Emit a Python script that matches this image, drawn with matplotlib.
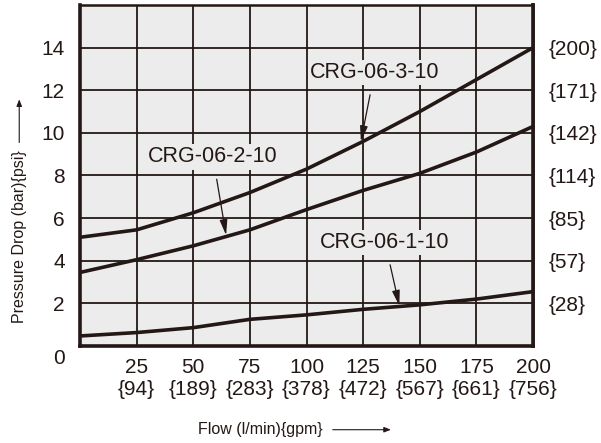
import matplotlib
matplotlib.use("Agg")
import matplotlib.pyplot as plt
import matplotlib.transforms as mtransforms
from matplotlib.patches import FancyArrowPatch

plt.rcParams['font.family'] = ['Liberation Sans', 'DejaVu Sans']

# flow in l/min, pressure drop in bar
flow = [0, 25, 50, 75, 100, 125, 150, 175, 200]
crg_3 = [5.1, 5.45, 6.25, 7.2, 8.3, 9.6, 11.0, 12.5, 14.0]
crg_2 = [3.45, 4.05, 4.7, 5.45, 6.4, 7.3, 8.1, 9.1, 10.3]
crg_1 = [0.47, 0.63, 0.86, 1.25, 1.46, 1.72, 1.93, 2.2, 2.55]

x_ticks = [25, 50, 75, 100, 125, 150, 175, 200]
gpm_labels = ['{94}', '{189}', '{283}', '{378}', '{472}', '{567}', '{661}', '{756}']
y_ticks = [0, 2, 4, 6, 8, 10, 12, 14]
psi_labels = ['{28}', '{57}', '{85}', '{114}', '{142}', '{171}', '{200}']

# label text, text position, arrow tip (data coords)
notes = [
    ('CRG-06-3-10', (130, 12.83), (124, 9.6)),
    ('CRG-06-2-10', (58.7, 8.87), (64.5, 5.2)),
    ('CRG-06-1-10', (134.7, 4.85), (141, 1.88)),
]

ink = '#231815'
bg = '#ececec'
fig = plt.figure(figsize=(6.01, 4.43), dpi=100)
ax = fig.add_axes([0.1331, 0.219, 0.7538, 0.7697])
ax.set_xlim(0, 200)
ax.set_ylim(0, 16)

# panel shading
ax.fill_between([0, 200], 0, 16, color=bg, lw=0, zorder=0.5)

# grid as one path, pieces separated by NaN
gx, gy = [], []
for v in x_ticks[:-1]:
    gx += [v, v, float('nan')]
    gy += [0, 16, float('nan')]
for v in y_ticks[1:]:
    gx += [0, 200, float('nan')]
    gy += [v, v, float('nan')]
ax.plot(gx, gy, color=ink, lw=1.3, zorder=2)

for series in (crg_3, crg_2, crg_1):
    ax.plot(flow, series, color=ink, lw=2.6, solid_capstyle='butt', zorder=3)

for text, xy_text, xy_tip in notes:
    ax.annotate(text, xy=xy_tip, xytext=xy_text, fontsize=15.5, color=ink,
                ha='center', va='center', zorder=4,
                bbox=dict(boxstyle='square,pad=0.1', fc=bg, ec='none'),
                arrowprops=dict(arrowstyle='-|>,head_length=0.6,head_width=0.15',
                                color=ink, lw=0.9, shrinkA=7, shrinkB=0))

ax.set_xticks(x_ticks)
ax.set_xticklabels([f'{a}\n{b}' for a, b in zip(x_ticks, gpm_labels)], fontsize=15)
ax.set_yticks(y_ticks)
ax.set_yticklabels([str(v) for v in y_ticks], fontsize=15)
ax.tick_params(axis='both', length=0, colors=ink)
ax.tick_params(axis='x', pad=9)
ax.tick_params(axis='y', pad=11)
# the "0" sits a little below the corner
zero = ax.get_yticklabels()[0]
zero.set_transform(zero.get_transform() +
                   mtransforms.ScaledTranslation(0, -0.11, fig.dpi_scale_trans))

sec = ax.secondary_yaxis('right')
sec.set_yticks(y_ticks[1:])
sec.set_yticklabels(psi_labels, fontsize=15)
sec.tick_params(axis='y', length=0, pad=11, colors=ink)
sec.spines['right'].set_linewidth(2.6)
sec.spines['right'].set_color(ink)

for side in ('left', 'bottom', 'right'):
    ax.spines[side].set_linewidth(2.6)
    ax.spines[side].set_color(ink)
ax.spines['top'].set_linewidth(1.8)
ax.spines['top'].set_color(ink)

fig.text(0.032, 0.466, 'Pressure Drop (bar){psi}', rotation=90, fontsize=11.5,
         color=ink, ha='center', va='center')
fig.add_artist(FancyArrowPatch(
    (0.032, 0.672), (0.032, 0.782), transform=fig.transFigure,
    arrowstyle='-|>,head_length=4,head_width=1.6', color=ink, lw=0.8))

fig.text(0.433, 0.03, 'Flow (l/min){gpm}', fontsize=11.5, color=ink,
         ha='center', va='center')
fig.add_artist(FancyArrowPatch(
    (0.549, 0.03), (0.655, 0.03), transform=fig.transFigure,
    arrowstyle='-|>,head_length=4,head_width=1.6', color=ink, lw=0.8))

fig.savefig('out.png', dpi=100, facecolor='white')
